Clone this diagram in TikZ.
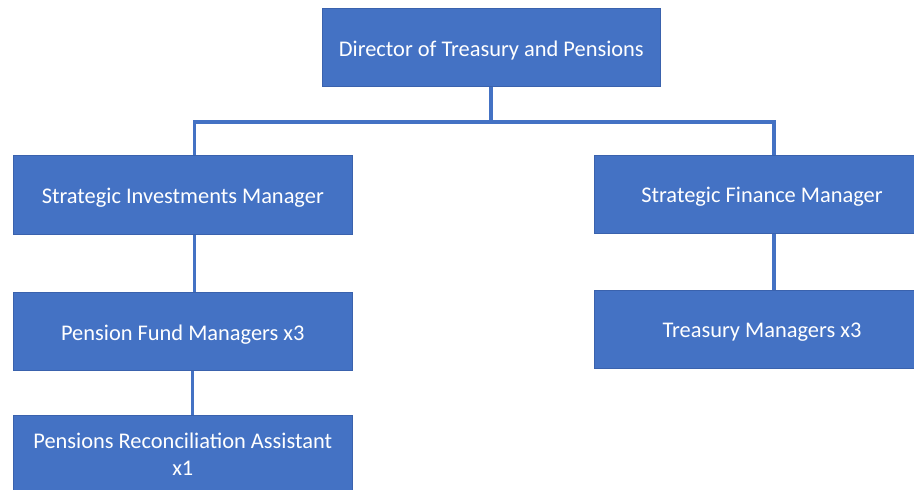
\documentclass[tikz,border=0pt]{standalone}
\usepackage{fontspec}
\setmainfont{Carlito}
\definecolor{boxfill}{HTML}{4472C4}
\definecolor{boxline}{HTML}{3A62AD}
\definecolor{conn}{HTML}{4472C4}
\begin{document}
\begin{tikzpicture}[x=1pt,y=-1pt,
  orgbox/.style={rectangle,fill=boxfill,draw=boxline,line width=0.8pt,
    inner sep=0pt,text=white,font=\fontsize{22.4}{27}\selectfont,align=center},
  oneline/.style={text height=22pt,text depth=5pt},
  link/.style={draw=conn,line width=3.3pt}]
\useasboundingbox (0,0) rectangle (914,490);
\node[orgbox,oneline,minimum width=338.7pt,minimum height=78.4pt] (dir) at (491.3,47.5) {Director of Treasury and Pensions};
\node[orgbox,oneline,minimum width=339pt,minimum height=78.6pt] (sim) at (182.8,195) {Strategic Investments Manager};
\node[orgbox,oneline,minimum width=336pt,minimum height=78.3pt] (sfm) at (762,194.2) {Strategic Finance Manager};
\node[orgbox,oneline,minimum width=339pt,minimum height=78pt] (pfm) at (182.8,331.7) {Pension Fund Managers x3};
\node[orgbox,oneline,minimum width=336pt,minimum height=78.3pt] (tm) at (762,329.2) {Treasury Managers x3};
\node[orgbox,minimum width=339pt,minimum height=78.5pt] (pra) at (182.8,454.3) {Pensions Reconciliation Assistant\\x1};
\coordinate (bus) at (491,122);
\coordinate (lx) at (194.3,0);
\coordinate (rx) at (774,0);
\coordinate (px) at (192.7,0);
\draw[link] (dir.south -| bus) -- (bus);
\draw[link] (sim.north -| lx) -- (bus -| lx) -- (bus -| rx) -- (sfm.north -| rx);
\draw[link] (sim.south -| lx) -- (pfm.north -| lx);
\draw[link] (sfm.south -| rx) -- (tm.north -| rx);
\draw[link] (pfm.south -| px) -- (pra.north -| px);
\end{tikzpicture}
\end{document}
